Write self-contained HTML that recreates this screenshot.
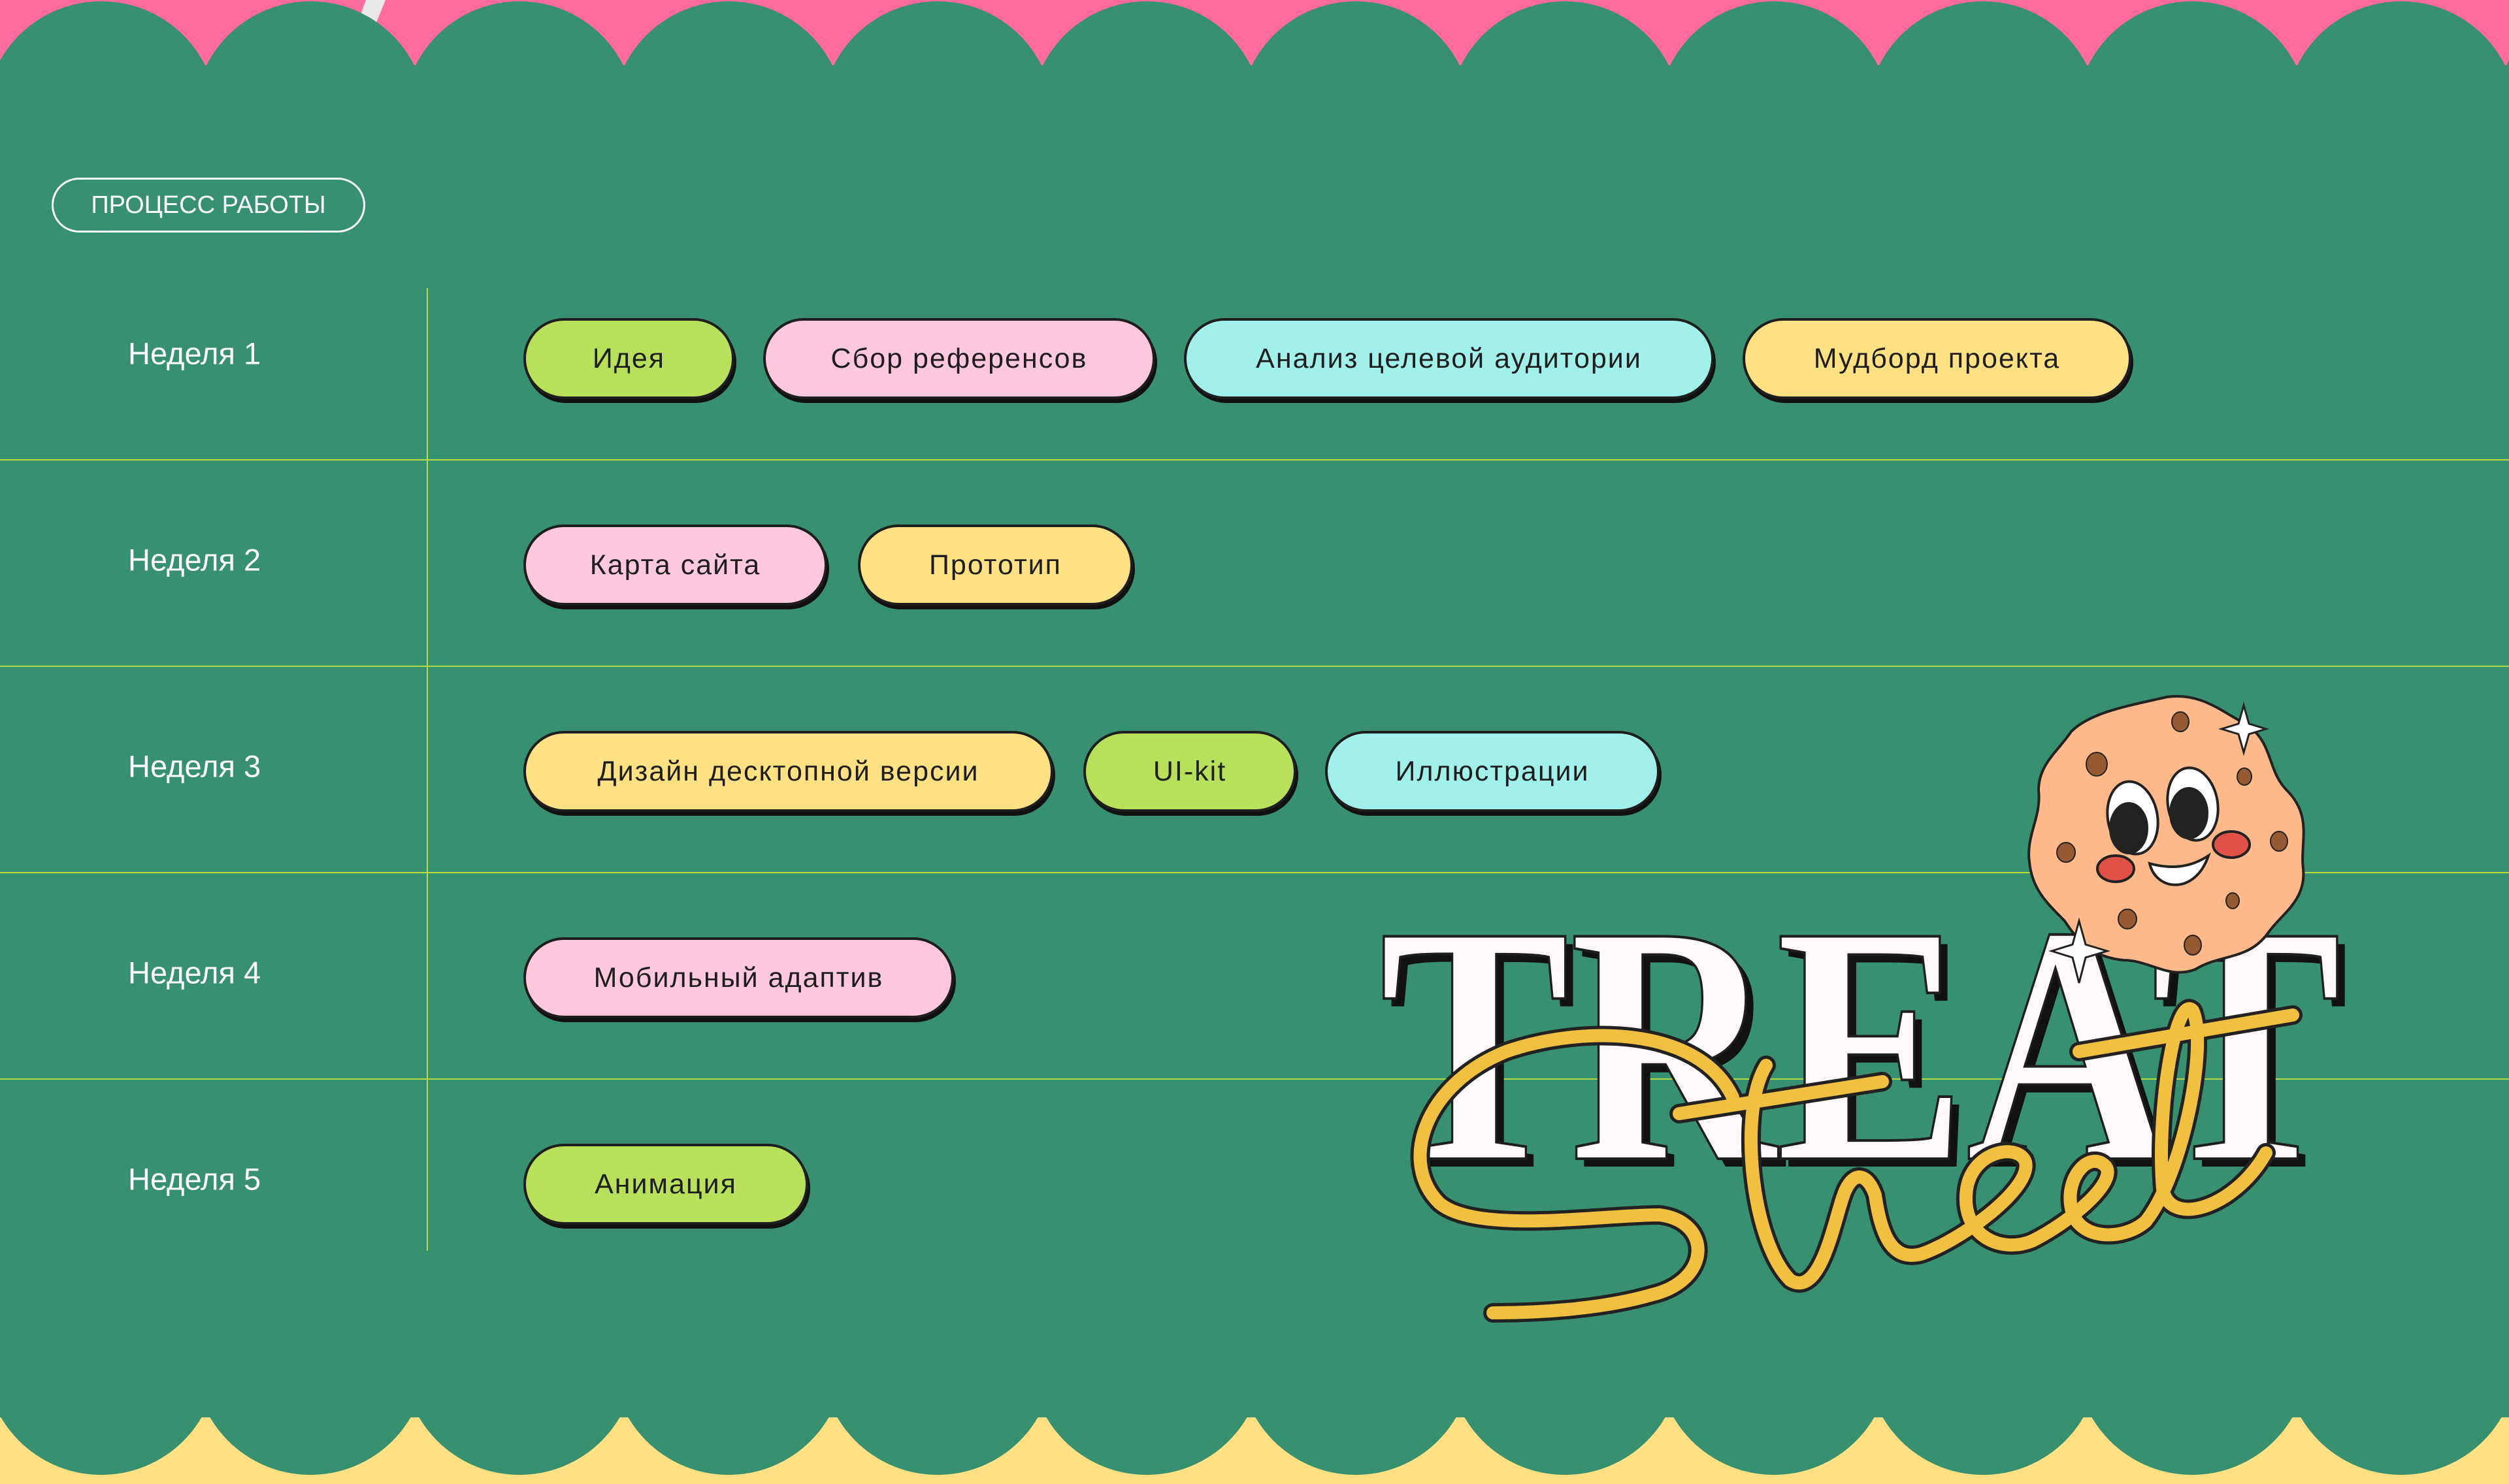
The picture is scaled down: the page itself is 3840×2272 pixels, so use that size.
<!DOCTYPE html>
<html><head><meta charset="utf-8"><style>
*{margin:0;padding:0;box-sizing:border-box}
body{width:3840px;height:2272px;overflow:hidden;background:#37906f;font-family:"Liberation Sans","DejaVu Sans",sans-serif;position:relative}
.pill{position:absolute;height:124px;border:4px solid #1e1e1e;border-radius:62px;box-shadow:3px 6px 0 #111;display:flex;align-items:center;justify-content:center;font-size:43px;letter-spacing:2px;color:#1e1e1e}
.g{background:#b8e05a}.p{background:#ffc8df}.c{background:#a2f0ea}.y{background:#ffe083}
.wk{position:absolute;left:196px;color:#fff;font-size:47px;transform:translateY(-50%)}
.hl{position:absolute;left:0;width:3840px;height:2px;background:#b5dc45}
</style></head><body>
<svg width="3840" height="2272" style="position:absolute;left:0;top:0">
<rect x="0" y="0" width="3840" height="110" fill="#ff6b9e"/>
<rect x="0" y="2150" width="3840" height="122" fill="#ffe083"/>
<path d="M560,0 L590,0 L545,110 L520,110 Z" fill="#e8e8e8"/>
<g fill="#37906f">
<rect x="0" y="100" width="3840" height="2070"/>
<circle cx="-165" cy="180" r="178"/><circle cx="155" cy="180" r="178"/><circle cx="475" cy="180" r="178"/><circle cx="795" cy="180" r="178"/><circle cx="1115" cy="180" r="178"/><circle cx="1435" cy="180" r="178"/><circle cx="1755" cy="180" r="178"/><circle cx="2075" cy="180" r="178"/><circle cx="2395" cy="180" r="178"/><circle cx="2715" cy="180" r="178"/><circle cx="3035" cy="180" r="178"/><circle cx="3355" cy="180" r="178"/><circle cx="3675" cy="180" r="178"/><circle cx="3995" cy="180" r="178"/>
<circle cx="-165" cy="2080" r="178"/><circle cx="155" cy="2080" r="178"/><circle cx="475" cy="2080" r="178"/><circle cx="795" cy="2080" r="178"/><circle cx="1115" cy="2080" r="178"/><circle cx="1435" cy="2080" r="178"/><circle cx="1755" cy="2080" r="178"/><circle cx="2075" cy="2080" r="178"/><circle cx="2395" cy="2080" r="178"/><circle cx="2715" cy="2080" r="178"/><circle cx="3035" cy="2080" r="178"/><circle cx="3355" cy="2080" r="178"/><circle cx="3675" cy="2080" r="178"/><circle cx="3995" cy="2080" r="178"/>
</g>
<rect x="653" y="441" width="2" height="1474" fill="#b5dc45"/>
</svg>
<div class="hl" style="top:703px"></div><div class="hl" style="top:1019px"></div><div class="hl" style="top:1335px"></div><div class="hl" style="top:1651px"></div>
<div style="position:absolute;left:79px;top:272px;width:480px;height:84px;border:3px solid #fff;border-radius:42px;color:#fff;font-size:38px;display:flex;align-items:center;justify-content:center">ПРОЦЕСС РАБОТЫ</div>
<div class="wk" style="top:541px">Неделя 1</div>
<div class="wk" style="top:857px">Неделя 2</div>
<div class="wk" style="top:1173px">Неделя 3</div>
<div class="wk" style="top:1489px">Неделя 4</div>
<div class="wk" style="top:1805px">Неделя 5</div>

<div class="pill g" style="left:801px;top:487px;width:323px">Идея</div>
<div class="pill p" style="left:1168px;top:487px;width:600px">Сбор референсов</div>
<div class="pill c" style="left:1812px;top:487px;width:811px">Анализ целевой аудитории</div>
<div class="pill y" style="left:2667px;top:487px;width:595px">Мудборд проекта</div>
<div class="pill p" style="left:801px;top:803px;width:465px">Карта сайта</div>
<div class="pill y" style="left:1313px;top:803px;width:421px">Прототип</div>
<div class="pill y" style="left:801px;top:1119px;width:811px">Дизайн десктопной версии</div>
<div class="pill g" style="left:1658px;top:1119px;width:326px">UI-kit</div>
<div class="pill c" style="left:2028px;top:1119px;width:512px">Иллюстрации</div>
<div class="pill p" style="left:801px;top:1435px;width:659px">Мобильный адаптив</div>
<div class="pill g" style="left:801px;top:1751px;width:436px">Анимация</div>

<div style="position:absolute;left:2111px;top:1350px;width:1530px;height:500px;font-family:'Liberation Serif',serif;font-weight:bold;font-size:520px;line-height:500px;color:#fff9fb;-webkit-text-stroke:4px #1e1e1e;text-shadow:14px 12px 0 #111;transform:scaleX(0.84);transform-origin:0 0;white-space:nowrap">TREAT</div>

<svg width="3840" height="2272" style="position:absolute;left:0;top:0">
<g fill="none" stroke-linecap="round" stroke-linejoin="round">
<g stroke="#222" stroke-width="30">
<path d="M2652,1680 C2600,1570 2420,1570 2305,1610 C2180,1660 2140,1780 2203,1842 C2260,1890 2450,1860 2540,1860 C2620,1870 2620,1960 2529,1982 C2450,2005 2350,2010 2285,2010"/>
<path d="M2570,1705 L2881,1656"/><path d="M3182,1610 L3509,1554"/>
<path d="M2703,1631 C2660,1700 2680,1900 2740,1960 C2790,1990 2810,1850 2825,1821 C2840,1790 2860,1800 2870,1830 C2880,1900 2900,1930 2940,1920 C3000,1900 3110,1820 3100,1779 C3090,1750 3020,1760 3010,1820 C3000,1890 3060,1920 3110,1900 C3170,1870 3240,1810 3223,1786 C3200,1760 3160,1800 3170,1850 C3180,1900 3250,1900 3284,1870 C3340,1800 3380,1600 3356,1547 C3330,1520 3300,1700 3310,1820 C3320,1880 3420,1850 3468,1765"/>
</g>
<g stroke="#f2c040" stroke-width="20">
<path d="M2652,1680 C2600,1570 2420,1570 2305,1610 C2180,1660 2140,1780 2203,1842 C2260,1890 2450,1860 2540,1860 C2620,1870 2620,1960 2529,1982 C2450,2005 2350,2010 2285,2010"/>
<path d="M2570,1705 L2881,1656"/><path d="M3182,1610 L3509,1554"/>
<path d="M2703,1631 C2660,1700 2680,1900 2740,1960 C2790,1990 2810,1850 2825,1821 C2840,1790 2860,1800 2870,1830 C2880,1900 2900,1930 2940,1920 C3000,1900 3110,1820 3100,1779 C3090,1750 3020,1760 3010,1820 C3000,1890 3060,1920 3110,1900 C3170,1870 3240,1810 3223,1786 C3200,1760 3160,1800 3170,1850 C3180,1900 3250,1900 3284,1870 C3340,1800 3380,1600 3356,1547 C3330,1520 3300,1700 3310,1820 C3320,1880 3420,1850 3468,1765"/>
</g>
</g>
<path d="M3317,1067 C3370,1060 3400,1090 3440,1110 C3480,1140 3470,1180 3500,1210 C3540,1250 3520,1290 3525,1330 C3530,1380 3490,1400 3470,1430 C3440,1470 3400,1460 3360,1484 C3320,1500 3290,1470 3250,1470 C3200,1465 3180,1440 3160,1410 C3130,1380 3110,1360 3106,1320 C3100,1280 3125,1250 3120,1210 C3120,1170 3150,1150 3170,1120 C3200,1090 3260,1080 3317,1067 Z" fill="#ffb98a" stroke="#222" stroke-width="4"/>
<g fill="#955a32" stroke="#222" stroke-width="2">
<ellipse cx="3337" cy="1105" rx="13" ry="15"/><ellipse cx="3209" cy="1170" rx="16" ry="18"/><ellipse cx="3435" cy="1189" rx="11" ry="13"/><ellipse cx="3162" cy="1305" rx="14" ry="15"/><ellipse cx="3488" cy="1288" rx="13" ry="15"/><ellipse cx="3417" cy="1379" rx="10" ry="12"/><ellipse cx="3256" cy="1407" rx="14" ry="15"/><ellipse cx="3356" cy="1447" rx="13" ry="15"/>
</g>
<g stroke="#222" stroke-width="4">
<ellipse cx="3264" cy="1252" rx="38" ry="56" fill="#fff" transform="rotate(-10 3264 1252)"/>
<ellipse cx="3356" cy="1231" rx="38" ry="56" fill="#fff" transform="rotate(-10 3356 1231)"/>
<ellipse cx="3258" cy="1268" rx="28" ry="38" fill="#222"/>
<ellipse cx="3350" cy="1245" rx="28" ry="38" fill="#222"/>
<ellipse cx="3238" cy="1330" rx="28" ry="20" fill="#e05248"/>
<ellipse cx="3415" cy="1293" rx="28" ry="20" fill="#e05248"/>
<path d="M3290,1322 C3300,1365 3360,1370 3380,1310 C3350,1330 3320,1330 3290,1322 Z" fill="#fff"/>
</g>
<path d="M3434,1080 L3442,1108 L3468,1116 L3442,1124 L3434,1152 L3426,1124 L3400,1116 L3426,1108 Z" fill="#fff" stroke="#222" stroke-width="3"/>
<path d="M3182,1410 L3192,1446 L3225,1456 L3192,1466 L3182,1505 L3172,1466 L3140,1456 L3172,1446 Z" fill="#fff" stroke="#222" stroke-width="3"/>
</svg>
</body></html>
